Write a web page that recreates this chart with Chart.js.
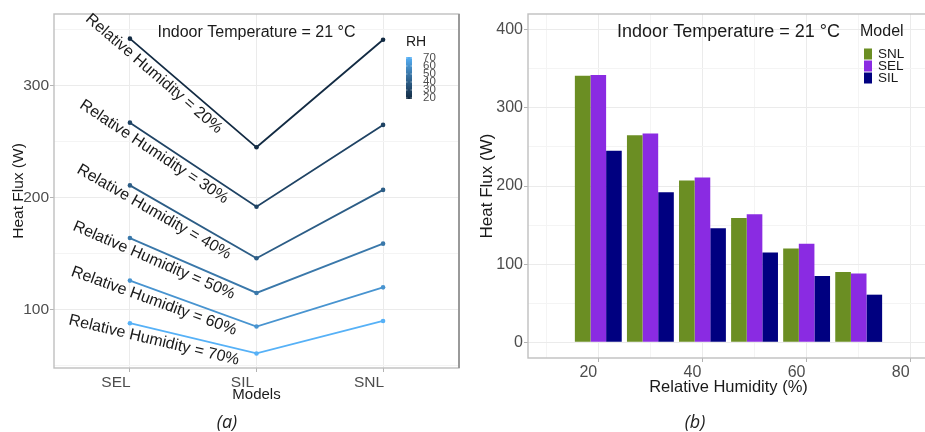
<!DOCTYPE html>
<html><head><meta charset="utf-8">
<script src="https://cdn.jsdelivr.net/npm/chart.js@4"></script>
<style>
html,body{margin:0;padding:0;background:#fff;overflow:hidden;width:925px;height:432px;}
#wrapA{position:absolute;left:0;top:0;width:470px;height:432px;}
#wrapB{position:absolute;left:470px;top:0;width:462px;height:432px;}
.cap{position:absolute;width:60px;text-align:center;top:408px;line-height:26px;font-family:"Open Sans","Noto Sans",sans-serif;font-style:italic;font-size:18px;color:#222;}
</style></head><body>
<div id="wrapA"><canvas id="ca"></canvas></div>
<div id="wrapB"><canvas id="cb"></canvas></div>
<div class="cap" style="left:197px">(a)</div>
<div class="cap" style="left:665px">(b)</div>
<script>
// ---- data ----
const models = ['SEL', 'SIL', 'SNL'];
const rhLevels = [20, 30, 40, 50, 60, 70];
const fluxSEL = [342, 267, 211, 164, 126, 88];
const fluxSIL = [245, 192, 146, 115, 85, 61];
const fluxSNL = [341, 265, 207, 159, 120, 90];
const barModels = ['SNL', 'SEL', 'SIL'];
const rhTickLabels = [20, 40, 60, 80];
const fluxTickLabels = [0, 100, 200, 300, 400];
const leftFluxTicks = [100, 200, 300];
const rhLegendTicks = [20, 30, 40, 50, 60, 70];
const annotationText = 'Indoor Temperature = 21 °C';

// ---- styles ----
const FONT = '"Liberation Sans", Arial, sans-serif';
const TICK_COL = '#4d4d4d';
const TITLE_COL = '#1a1a1a';
const GRID_MAJOR = '#ebebeb';
const GRID_MINOR = '#f4f4f4';
const TICK_MARK = '#b3b3b3';
const modelColors = {SNL: '#6B8E23', SEL: '#8A2BE2', SIL: '#000080'};

function s2l(c){c/=255;return c<=0.04045?c/12.92:Math.pow((c+0.055)/1.055,2.4);}
function l2s(c){c=c<=0.0031308?12.92*c:1.055*Math.pow(c,1/2.4)-0.055;return Math.round(Math.max(0,Math.min(1,c))*255);}
function rgb2lab(rgb){const r=s2l(rgb[0]),g=s2l(rgb[1]),b=s2l(rgb[2]);
  const x=(0.4124*r+0.3576*g+0.1805*b)/0.95047,y=0.2126*r+0.7152*g+0.0722*b,z=(0.0193*r+0.1192*g+0.9505*b)/1.08883;
  const f=t=>t>0.008856?Math.cbrt(t):7.787*t+16/116;const fx=f(x),fy=f(y),fz=f(z);
  return [116*fy-16,500*(fx-fy),200*(fy-fz)];}
function lab2rgb(lab){const fy=(lab[0]+16)/116,fx=fy+lab[1]/500,fz=fy-lab[2]/200;
  const fi=t=>t*t*t>0.008856?t*t*t:(t-16/116)/7.787;
  const x=fi(fx)*0.95047,y=fi(fy),z=fi(fz)*1.08883;
  return [l2s(3.2406*x-1.5372*y-0.4986*z),l2s(-0.9689*x+1.8758*y+0.0415*z),l2s(0.0557*x-0.2040*y+1.0570*z)];}
const LOW = rgb2lab([0x13,0x2B,0x43]), HIGH = rgb2lab([0x56,0xB1,0xF7]);
const rhMin = Math.min(...rhLevels), rhMax = Math.max(...rhLevels);
function rhColor(rh){const t=(rh-rhMin)/(rhMax-rhMin);
  const c=lab2rgb([0,1,2].map(k=>LOW[k]+(HIGH[k]-LOW[k])*t));return 'rgb('+c.join(',')+')';}

const isMajorIn = (arr) => (ctx) => ctx.tick && arr.includes(ctx.tick.value);

// ---- plugins ----
const borderPlugin = {
  id: 'panelBorder',
  afterDatasetsDraw(chart, args, opts) {
    const {ctx, chartArea: a} = chart;
    ctx.save();
    ctx.strokeStyle = '#bfbfbf'; ctx.lineWidth = 1.4;
    ctx.strokeRect(a.left, a.top, a.right - a.left, a.bottom - a.top);
    if (opts.darkRight) {
      ctx.strokeStyle = '#9a9a9a'; ctx.lineWidth = 2;
      ctx.beginPath(); ctx.moveTo(a.right, a.top); ctx.lineTo(a.right, a.bottom); ctx.stroke();
    }
    ctx.restore();
  }
};

const leftAnnot = {
  id: 'leftAnnot',
  afterDatasetsDraw(chart) {
    const ctx = chart.ctx, xs = chart.scales.x, ys = chart.scales.y;
    ctx.save();
    ctx.fillStyle = TITLE_COL; ctx.textAlign = 'center'; ctx.textBaseline = 'middle';
    ctx.font = '16px ' + FONT;
    const labelX = xs.getPixelForValue(1.19);
    chart.data.datasets.forEach((ds, i) => {
      const pts = chart.getDatasetMeta(i).data;
      const p0 = pts[0], p1 = pts[1];
      const ang = Math.atan2(p1.y - p0.y, p1.x - p0.x);
      const ux = Math.cos(ang), uy = Math.sin(ang);
      const perp = 11;
      const t = (labelX - p0.x + perp * uy) / ux;
      const cx = p0.x + t * ux - perp * uy, cy = p0.y + t * uy + perp * ux;
      ctx.save(); ctx.translate(cx, cy); ctx.rotate(ang);
      ctx.fillText('Relative Humidity = ' + ds.rh + '%', 0, 0);
      ctx.restore();
    });
    // top annotation
    ctx.font = '16px ' + FONT;
    ctx.fillText(annotationText, xs.getPixelForValue(2), ys.getPixelForValue(350) + 3);
    // RH colour bar legend
    const bx = 406, bw = 6, bt = 57, bb = 99;
    ctx.textAlign = 'left';
    ctx.font = '14px ' + FONT;
    ctx.fillText('RH', 406, 42);
    const g = ctx.createLinearGradient(0, bb, 0, bt);
    for (let k = 0; k <= 10; k++) g.addColorStop(k / 10, rhColor(rhMin + (rhMax - rhMin) * k / 10));
    ctx.fillStyle = g; ctx.fillRect(bx, bt, bw, bb - bt);
    ctx.font = '11.5px ' + FONT; ctx.fillStyle = TICK_COL;
    rhLegendTicks.forEach(v => {
      const y = bb - 1 - (v - rhMin) / (rhMax - rhMin) * (bb - bt - 2);
      ctx.strokeStyle = 'rgba(255,255,255,0.8)'; ctx.lineWidth = 0.6;
      ctx.beginPath(); ctx.moveTo(bx, y); ctx.lineTo(bx + 1.5, y); ctx.moveTo(bx + bw - 1.5, y); ctx.lineTo(bx + bw, y); ctx.stroke();
      ctx.fillText(String(v), 423, y);
    });
    ctx.restore();
  }
};

const rightAnnot = {
  id: 'rightAnnot',
  afterDatasetsDraw(chart) {
    const ctx = chart.ctx, xs = chart.scales.x, ys = chart.scales.y;
    ctx.save();
    ctx.fillStyle = TITLE_COL; ctx.textAlign = 'center'; ctx.textBaseline = 'middle';
    ctx.font = '18px ' + FONT;
    ctx.fillText(annotationText, (chart.chartArea.left + chart.chartArea.right) / 2, ys.getPixelForValue(400) + 2);
    // legend
    const lx = 390;
    ctx.textAlign = 'left';
    ctx.font = '16px ' + FONT;
    ctx.fillText('Model', lx, 32);
    ctx.font = '13.5px ' + FONT;
    chart.data.datasets.forEach((ds, i) => {
      const cy = 54 + i * 12;
      ctx.fillStyle = ds.backgroundColor;
      ctx.fillRect(lx + 4, cy - 5.5, 8, 11);
      ctx.fillStyle = TITLE_COL;
      ctx.fillText(ds.label, lx + 18, cy + 0.5);
    });
    ctx.restore();
  }
};

// ---- chart (a) ----
const fluxByModel = [fluxSEL, fluxSIL, fluxSNL];
new Chart(document.getElementById('ca'), {
  type: 'line',
  data: {
    datasets: rhLevels.map((rh, i) => ({
      label: 'RH ' + rh,
      rh: rh,
      data: models.map((m, j) => ({x: j + 1, y: fluxByModel[j][i]})),
      borderColor: rhColor(rh),
      backgroundColor: rhColor(rh),
      borderWidth: 1.8,
      pointRadius: 2.3,
      pointBorderWidth: 0,
      tension: 0
    }))
  },
  options: {
    responsive: true, maintainAspectRatio: false, animation: false, events: [],
    layout: {padding: {left: 0, top: 14, right: 11, bottom: 0}},
    plugins: {legend: {display: false}, tooltip: {enabled: false}, panelBorder: {darkRight: true}},
    scales: {
      x: {
        type: 'linear', min: 0.4, max: 3.6, offset: false,
        afterFit(s) { s.height = 64; },
        ticks: {stepSize: 1, includeBounds: false, autoSkip: false, maxRotation: 0,
          callback: v => models[v - 1] || '', color: TICK_COL, font: {family: FONT, size: 15.5},
          padding: 1, labelOffset: -14},
        grid: {color: GRID_MAJOR, lineWidth: 1, tickLength: 4, tickColor: TICK_MARK, offset: false},
        border: {display: false},
        title: {display: true, text: 'Models', color: TITLE_COL, font: {family: FONT, size: 15}, padding: {top: 0, bottom: 28}}
      },
      y: {
        min: 48, max: 364,
        afterFit(s) { s.width = 54; },
        ticks: {stepSize: 50, includeBounds: false, autoSkip: false,
          callback: v => leftFluxTicks.includes(v) ? String(v) : '',
          color: TICK_COL, font: {family: FONT, size: 15.5}, padding: 1},
        grid: {color: c => isMajorIn(leftFluxTicks)(c) ? GRID_MAJOR : GRID_MINOR,
          tickColor: c => isMajorIn(leftFluxTicks)(c) ? TICK_MARK : 'rgba(0,0,0,0)', tickLength: 4},
        border: {display: false},
        title: {display: true, text: 'Heat Flux (W)', color: TITLE_COL, font: {family: FONT, size: 15.5}, padding: {top: 9, bottom: 0}}
      }
    }
  },
  plugins: [borderPlugin, leftAnnot]
});

// ---- chart (b) ----
const barValues = {SNL: fluxSNL, SEL: fluxSEL, SIL: fluxSIL};
new Chart(document.getElementById('cb'), {
  type: 'bar',
  data: {
    datasets: barModels.map(m => ({
      label: m,
      data: rhLevels.map((rh, i) => ({x: rh, y: barValues[m][i]})),
      backgroundColor: modelColors[m],
      borderWidth: 0,
      barPercentage: 1,
      categoryPercentage: 0.9
    }))
  },
  options: {
    responsive: true, maintainAspectRatio: false, animation: false, events: [],
    layout: {padding: {left: 0, top: 14, right: 3, bottom: 0}},
    plugins: {legend: {display: false}, tooltip: {enabled: false}, panelBorder: {darkRight: false}},
    scales: {
      x: {
        type: 'linear', min: 6.5, max: 83.5, offset: false,
        afterFit(s) { s.height = 74; },
        ticks: {stepSize: 10, includeBounds: false, autoSkip: false, maxRotation: 0,
          callback: v => rhTickLabels.includes(v) ? String(v) : '',
          color: TICK_COL, font: {family: FONT, size: 16}, padding: 1, labelOffset: -10},
        grid: {offset: false, color: c => isMajorIn(rhTickLabels)(c) ? GRID_MAJOR : GRID_MINOR,
          tickColor: c => isMajorIn(rhTickLabels)(c) ? TICK_MARK : 'rgba(0,0,0,0)', tickLength: 4},
        border: {display: false},
        title: {display: true, text: 'Relative Humidity (%)', color: TITLE_COL, font: {family: FONT, size: 16.5}, padding: {top: 0, bottom: 35}}
      },
      y: {
        min: -20, max: 420,
        afterFit(s) { s.width = 58; },
        ticks: {stepSize: 50, includeBounds: false, autoSkip: false,
          callback: v => fluxTickLabels.includes(v) ? String(v) : '',
          color: TICK_COL, font: {family: FONT, size: 16}, padding: 1},
        grid: {color: c => isMajorIn(fluxTickLabels)(c) ? GRID_MAJOR : GRID_MINOR,
          tickColor: c => isMajorIn(fluxTickLabels)(c) ? TICK_MARK : 'rgba(0,0,0,0)', tickLength: 4},
        border: {display: false},
        title: {display: true, text: 'Heat Flux (W)', color: TITLE_COL, font: {family: FONT, size: 17}, padding: {top: 7, bottom: 0}}
      }
    }
  },
  plugins: [borderPlugin, rightAnnot]
});
</script>
</body></html>
